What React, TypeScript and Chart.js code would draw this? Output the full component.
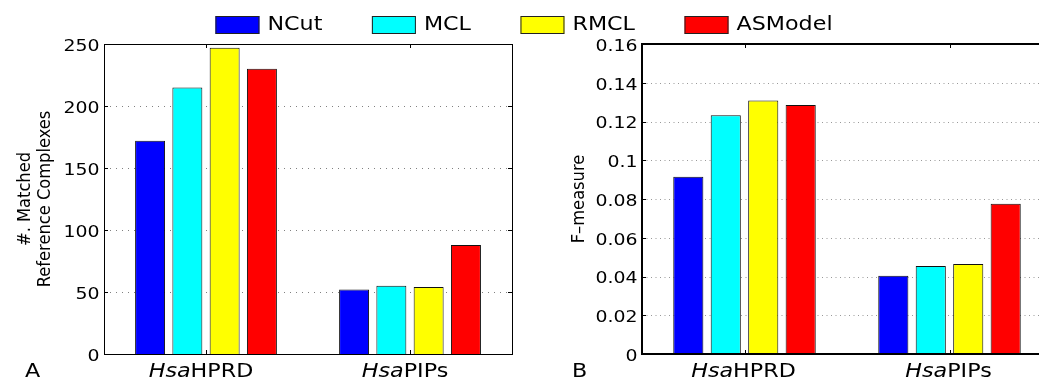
import React, { useEffect, useRef } from 'react';
import { Chart, registerables } from 'chart.js';

Chart.register(...registerables);

// ---------- data ----------
const categories = ['HsaHPRD', 'HsaPIPs'];
const categoryItalic = ['Hsa', 'Hsa'];
const categoryRoman = ['HPRD', 'PIPs'];
const seriesNames = ['NCut', 'MCL', 'RMCL', 'ASModel'];
const seriesColors = ['#0000ff', '#00ffff', '#ffff00', '#ff0000'];

const matchedNCut = [172, 52];
const matchedMCL = [215, 55];
const matchedRMCL = [247, 54];
const matchedASModel = [230, 88];

const fNCut = [0.0915, 0.0404];
const fMCL = [0.1232, 0.0454];
const fRMCL = [0.1309, 0.0464];
const fASModel = [0.1285, 0.0776];

const matchedTickLabels = ['0', '50', '100', '150', '200', '250'];
const fTickLabels = ['0', '0.02', '0.04', '0.06', '0.08', '0.1', '0.12', '0.14', '0.16'];

const matchedTitle = ['#. Matched', 'Reference Complexes'];
const fTitle = ['F\u2013measure'];

// ---------- helpers ----------
const FONT = '"DejaVu Sans", "Liberation Sans", Arial, sans-serif';
const SX = 1.17;

function drawStretched(
  ctx: CanvasRenderingContext2D,
  text: string,
  x: number,
  y: number,
  align: 'left' | 'right' | 'center',
  font: string,
  sx: number
) {
  ctx.save();
  ctx.font = font;
  const w = ctx.measureText(text).width * sx;
  const left = align === 'right' ? x - w : align === 'center' ? x - w / 2 : x;
  ctx.translate(left, y);
  ctx.scale(sx, 1);
  ctx.textAlign = 'left';
  ctx.textBaseline = 'alphabetic';
  ctx.fillText(text, 0, 0);
  ctx.restore();
  return w;
}

function textWidth(ctx: CanvasRenderingContext2D, text: string, font: string, sx: number) {
  ctx.save();
  ctx.font = font;
  const w = ctx.measureText(text).width * sx;
  ctx.restore();
  return w;
}

interface PanelCfg {
  tickLabels: string[];
  step: number;
  frameWidth: number;
  gridColor: string;
  gridDash: number[];
  titleLines: string[];
  titleOffsets: number[];
  letter: string;
  letterOffset: number;
  labelDx: number;
  legend: boolean;
}

function makePlugin(cfg: PanelCfg) {
  return {
    id: 'panelDecor',
    beforeDatasetsDraw(chart: any) {
      const ctx: CanvasRenderingContext2D = chart.ctx;
      const area = chart.chartArea;
      const ys = chart.scales.y;
      ctx.save();
      ctx.strokeStyle = cfg.gridColor;
      ctx.lineWidth = 1;
      ctx.setLineDash(cfg.gridDash);
      ys.ticks.forEach((t: any) => {
        if (t.value <= ys.min || t.value >= ys.max) return;
        const py = Math.round(ys.getPixelForValue(t.value)) + 0.5;
        ctx.beginPath();
        ctx.moveTo(area.left, py);
        ctx.lineTo(area.right, py);
        ctx.stroke();
      });
      ctx.restore();
    },
    afterDraw(chart: any) {
      const ctx: CanvasRenderingContext2D = chart.ctx;
      const area = chart.chartArea;
      const ys = chart.scales.y;
      const xs = chart.scales.x;
      ctx.save();
      ctx.fillStyle = '#000';
      ctx.strokeStyle = '#000';

      // frame
      ctx.lineWidth = cfg.frameWidth;
      const off = cfg.frameWidth % 2 === 1 ? 0.5 : 0;
      ctx.strokeRect(area.left + off, area.top + off, area.right - area.left, area.bottom - area.top);

      // inner ticks
      ctx.lineWidth = 1;
      const tl = 4;
      ys.ticks.forEach((t: any) => {
        const py = Math.round(ys.getPixelForValue(t.value)) + 0.5;
        ctx.beginPath();
        ctx.moveTo(area.left, py);
        ctx.lineTo(area.left + tl, py);
        ctx.moveTo(area.right, py);
        ctx.lineTo(area.right - tl, py);
        ctx.stroke();
      });
      categories.forEach((_c, i) => {
        const px = Math.round(xs.getPixelForValue(i)) + 0.5;
        ctx.beginPath();
        ctx.moveTo(px, area.bottom);
        ctx.lineTo(px, area.bottom - tl);
        ctx.moveTo(px, area.top);
        ctx.lineTo(px, area.top + tl);
        ctx.stroke();
      });

      // y tick labels
      const tickFont = `16px ${FONT}`;
      ys.ticks.forEach((t: any) => {
        const idx = Math.round(t.value / cfg.step);
        const label = cfg.tickLabels[idx] ?? String(t.value);
        const py = ys.getPixelForValue(t.value);
        drawStretched(ctx, label, area.left - 4.5, py + 6.8, 'right', tickFont, 1.18);
      });

      // x category labels (italic prefix)
      const itFont = `italic 19px ${FONT}`;
      const rmFont = `19px ${FONT}`;
      categories.forEach((_c, i) => {
        const cx = xs.getPixelForValue(i) + cfg.labelDx;
        const w1 = textWidth(ctx, categoryItalic[i], itFont, SX);
        const w2 = textWidth(ctx, categoryRoman[i], rmFont, SX);
        const x0 = cx - (w1 + w2) / 2;
        const by = area.bottom + 23;
        drawStretched(ctx, categoryItalic[i], x0, by, 'left', itFont, SX);
        drawStretched(ctx, categoryRoman[i], x0 + w1, by, 'left', rmFont, SX);
      });

      // y title (rotated)
      const cy = (area.top + area.bottom) / 2;
      ctx.font = `16.3px ${FONT}`;
      ctx.textAlign = 'center';
      ctx.textBaseline = 'alphabetic';
      cfg.titleLines.forEach((line, i) => {
        ctx.save();
        ctx.translate(area.left - cfg.titleOffsets[i], cy);
        ctx.rotate(-Math.PI / 2);
        ctx.scale(1, 1.12);
        ctx.fillText(line, 0, 0);
        ctx.restore();
      });

      // panel letter
      drawStretched(ctx, cfg.letter, area.left - cfg.letterOffset, area.bottom + 23, 'left', `19px ${FONT}`, SX);

      // legend
      if (cfg.legend) {
        const lf = `19px ${FONT}`;
        const boxW = 44;
        const boxH = 18;
        const gapBT = 8;
        const gapItem = 49.5;
        const ds = chart.data.datasets;
        const widths = ds.map((d: any) => textWidth(ctx, d.label, lf, SX));
        const total =
          ds.length * (boxW + gapBT) + widths.reduce((a: number, b: number) => a + b, 0) + (ds.length - 1) * gapItem;
        let x = 524 - total / 2;
        const top = 16;
        ds.forEach((d: any, i: number) => {
          ctx.fillStyle = d.backgroundColor;
          ctx.fillRect(x, top, boxW, boxH);
          ctx.strokeStyle = '#222';
          ctx.lineWidth = 1;
          ctx.strokeRect(x + 0.5, top + 0.5, boxW - 1, boxH - 1);
          ctx.fillStyle = '#000';
          drawStretched(ctx, d.label, x + boxW + gapBT, 29.5, 'left', lf, SX);
          x += boxW + gapBT + widths[i] + gapItem;
        });
      }
      ctx.restore();
    },
  };
}

function makeConfig(
  values: number[][],
  yMax: number,
  step: number,
  yWidth: number,
  padRight: number,
  cfg: PanelCfg
): any {
  return {
    type: 'bar',
    data: {
      labels: categories,
      datasets: values.map((v, i) => ({
        label: seriesNames[i],
        data: v,
        backgroundColor: seriesColors[i],
        borderColor: '#111',
        borderWidth: 1,
        barPercentage: 0.804,
        categoryPercentage: 0.731,
      })),
    },
    options: {
      responsive: false,
      animation: false,
      devicePixelRatio: 1,
      layout: { padding: { left: 0, top: 44, right: padRight, bottom: 0 } },
      plugins: { legend: { display: false }, tooltip: { enabled: false } },
      scales: {
        x: {
          ticks: { display: false },
          grid: { display: false },
          border: { display: false },
          afterFit: (s: any) => {
            s.height = 23;
          },
        },
        y: {
          min: 0,
          max: yMax,
          ticks: { display: false, stepSize: step },
          grid: { display: false },
          border: { display: false },
          afterFit: (s: any) => {
            s.width = yWidth;
          },
        },
      },
    },
    plugins: [makePlugin(cfg)],
  };
}

export default function App() {
  const refA = useRef<HTMLCanvasElement>(null);
  const refB = useRef<HTMLCanvasElement>(null);

  useEffect(() => {
    const chartA = new Chart(
      refA.current as HTMLCanvasElement,
      makeConfig([matchedNCut, matchedMCL, matchedRMCL, matchedASModel], 250, 50, 104, 1039 - 512, {
        tickLabels: matchedTickLabels,
        step: 50,
        frameWidth: 1,
        gridColor: '#808080',
        gridDash: [1, 5],
        titleLines: matchedTitle,
        titleOffsets: [74, 54],
        letter: 'A',
        letterOffset: 79,
        labelDx: -5,
        legend: true,
      })
    );
    const chartB = new Chart(
      refB.current as HTMLCanvasElement,
      makeConfig([fNCut, fMCL, fRMCL, fASModel], 0.16, 0.02, 122, 8, {
        tickLabels: fTickLabels,
        step: 0.02,
        frameWidth: 2,
        gridColor: '#999999',
        gridDash: [1, 3.5],
        titleLines: fTitle,
        titleOffsets: [58],
        letter: 'B',
        letterOffset: 70,
        labelDx: -1,
        legend: false,
      })
    );
    return () => {
      chartA.destroy();
      chartB.destroy();
    };
  }, []);

  return (
    <div
      style={{
        position: 'absolute',
        left: 0,
        top: 0,
        width: 1039,
        height: 377,
        overflow: 'hidden',
        background: '#fff',
      }}
    >
      <canvas ref={refA} width={1039} height={377} style={{ position: 'absolute', left: 0, top: 0 }} />
      <canvas ref={refB} width={540} height={377} style={{ position: 'absolute', left: 520, top: 0 }} />
    </div>
  );
}
